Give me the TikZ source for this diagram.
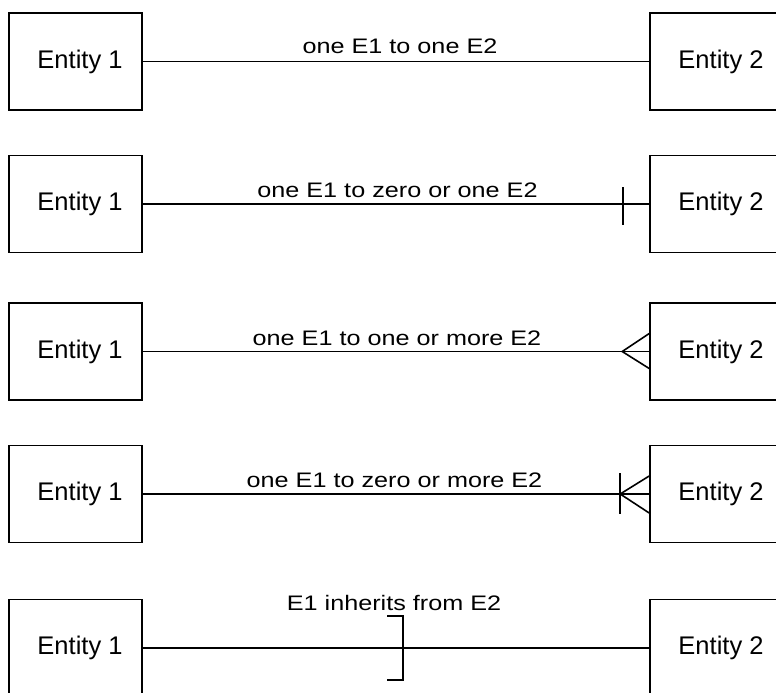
\documentclass[tikz,border=0pt]{standalone}
\usepackage{fontspec}
\setmainfont{Liberation Sans}
\usetikzlibrary{calc}
\begin{document}
\begin{tikzpicture}[x=1pt,y=-1pt,
  entity/.style={draw,line width=1.6pt,minimum width=133pt,minimum height=97pt,inner sep=0pt,
    font=\fontsize{25.5}{30}\selectfont},
  rel/.style={line width=1.6pt},
  lbl/.style={anchor=base,inner sep=0pt,font=\fontsize{21}{24}\selectfont}]
\clip (0,0) rectangle (776,693);
\fill[white] (0,0) rectangle (776,693);
\newcommand{\wide}[1]{\scalebox{1.2}[1]{#1}}
% row 1
\node[entity] (a1) at (75.5,61.5) {\hspace{9pt}Entity 1};
\node[entity] (b1) at (716.5,61.5) {\hspace{9pt}Entity 2};
\draw[rel] (a1.east) -- (b1.west);
\node[lbl] (l1) at (400,54) {\wide{one E1 to one E2}};
% row 2
\node[entity] (a2) at (75.5,204) {\hspace{9pt}Entity 1};
\node[entity] (b2) at (716.5,204) {\hspace{9pt}Entity 2};
\draw[rel] (a2.east) -- (b2.west);
\draw[rel] ($(b2.west)+(-26,-17)$) -- ($(b2.west)+(-26,21)$);
\node[lbl] (l2) at (397.5,197) {\wide{one E1 to zero or one E2}};
% row 3
\node[entity] (a3) at (75.5,351.5) {\hspace{9pt}Entity 1};
\node[entity] (b3) at (716.5,351.5) {\hspace{9pt}Entity 2};
\draw[rel] (a3.east) -- (b3.west);
\draw[rel] ($(b3.west)+(0,-18)$) -- ($(b3.west)+(-27,0)$) -- ($(b3.west)+(0,17)$);
\node[lbl] (l3) at (397,345) {\wide{one E1 to one or more E2}};
% row 4
\node[entity] (a4) at (75.5,494) {\hspace{9pt}Entity 1};
\node[entity] (b4) at (716.5,494) {\hspace{9pt}Entity 2};
\draw[rel] (a4.east) -- (b4.west);
\draw[rel] ($(b4.west)+(-29,-21)$) -- ($(b4.west)+(-29,20)$);
\draw[rel] ($(b4.west)+(0,-18)$) -- ($(b4.west)+(-29,0)$) -- ($(b4.west)+(0,19)$);
\node[lbl] (l4) at (394.5,487) {\wide{one E1 to zero or more E2}};
% row 5
\node[entity] (a5) at (75.5,648) {\hspace{9pt}Entity 1};
\node[entity] (b5) at (716.5,648) {\hspace{9pt}Entity 2};
\draw[rel] (a5.east) -- (b5.west);
\coordinate (k5) at (403,648);
\draw[rel] ($(k5)+(-16,-32)$) -- ($(k5)+(0,-32)$) -- ($(k5)+(0,32)$) -- ($(k5)+(-16,32)$);
\node[lbl] (l5) at (394,610) {\wide{E1 inherits from E2}};
\end{tikzpicture}
\end{document}
